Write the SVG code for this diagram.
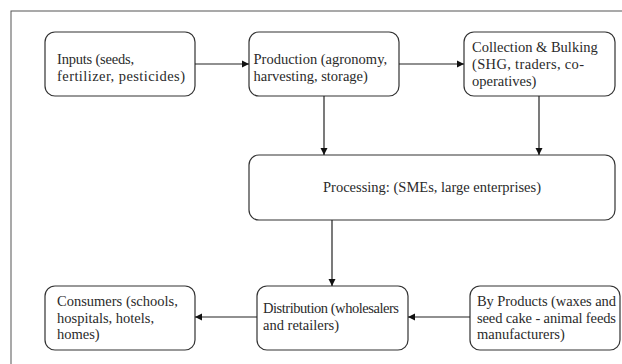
<svg xmlns="http://www.w3.org/2000/svg" width="622" height="364" viewBox="0 0 622 364">
<style>
.box{fill:#fff;stroke:#333;stroke-width:1.2}
.t{font-family:"Liberation Serif","Times New Roman",serif;font-size:14.5px;fill:#2a2a2a}
.c{stroke:#222;stroke-width:1.2;fill:none;marker-end:url(#ah)}
</style>
<defs>
<marker id="ah" markerWidth="8" markerHeight="8" refX="7" refY="4" orient="auto" markerUnits="userSpaceOnUse">
<path d="M0,0.5 L7,4 L0,7.5 Z" fill="#111"/>
</marker>
</defs>
<rect x="0" y="0" width="622" height="364" fill="#fff"/>
<rect x="11" y="11" width="620" height="370" fill="none" stroke="#555" stroke-width="1"/>
<g id="inputs">
<rect class="box" x="45" y="32" width="150" height="64" rx="10"/>
<text class="t" x="57" y="63.5" textLength="77" lengthAdjust="spacing">Inputs (seeds,</text>
<text class="t" x="57" y="80.5" textLength="128" lengthAdjust="spacing">fertilizer, pesticides)</text>
</g>
<g id="production">
<rect class="box" x="249" y="32" width="150" height="64" rx="10"/>
<text class="t" x="253.5" y="63.5">Production (agronomy,</text>
<text class="t" x="253.5" y="80.5">harvesting, storage)</text>
</g>
<g id="collection">
<rect class="box" x="464" y="32" width="151" height="64" rx="10"/>
<text class="t" x="472" y="52">Collection &amp; Bulking</text>
<text class="t" x="472" y="69" textLength="112" lengthAdjust="spacing">(SHG, traders, co-</text>
<text class="t" x="472" y="86">operatives)</text>
</g>
<g id="processing">
<rect class="box" x="249" y="155" width="366" height="65" rx="10"/>
<text class="t" x="432" y="192" text-anchor="middle">Processing: (SMEs, large enterprises)</text>
</g>
<g id="distribution">
<rect class="box" x="257" y="286" width="151" height="64" rx="10"/>
<text class="t" x="263" y="313" textLength="136" lengthAdjust="spacing">Distribution (wholesalers</text>
<text class="t" x="263" y="329.5">and retailers)</text>
</g>
<g id="consumers">
<rect class="box" x="45" y="286" width="150" height="64" rx="10"/>
<text class="t" x="57" y="306">Consumers (schools,</text>
<text class="t" x="57" y="322.5">hospitals, hotels,</text>
<text class="t" x="57" y="339">homes)</text>
</g>
<g id="byproducts">
<rect class="box" x="470" y="286" width="150" height="64" rx="10"/>
<text class="t" x="477" y="306" textLength="139" lengthAdjust="spacing">By Products (waxes and</text>
<text class="t" x="477" y="322.5" textLength="139" lengthAdjust="spacing">seed cake - animal feeds</text>
<text class="t" x="477" y="339">manufacturers)</text>
</g>
<g id="connectors">
<line class="c" x1="195" y1="64" x2="249" y2="64"/>
<line class="c" x1="399" y1="64" x2="464" y2="64"/>
<line class="c" x1="324" y1="96" x2="324" y2="155"/>
<line class="c" x1="539" y1="96" x2="539" y2="155"/>
<line class="c" x1="332" y1="220" x2="332" y2="286"/>
<line class="c" x1="257" y1="317" x2="195" y2="317"/>
<line class="c" x1="470" y1="317" x2="408" y2="317"/>
</g>
</svg>
